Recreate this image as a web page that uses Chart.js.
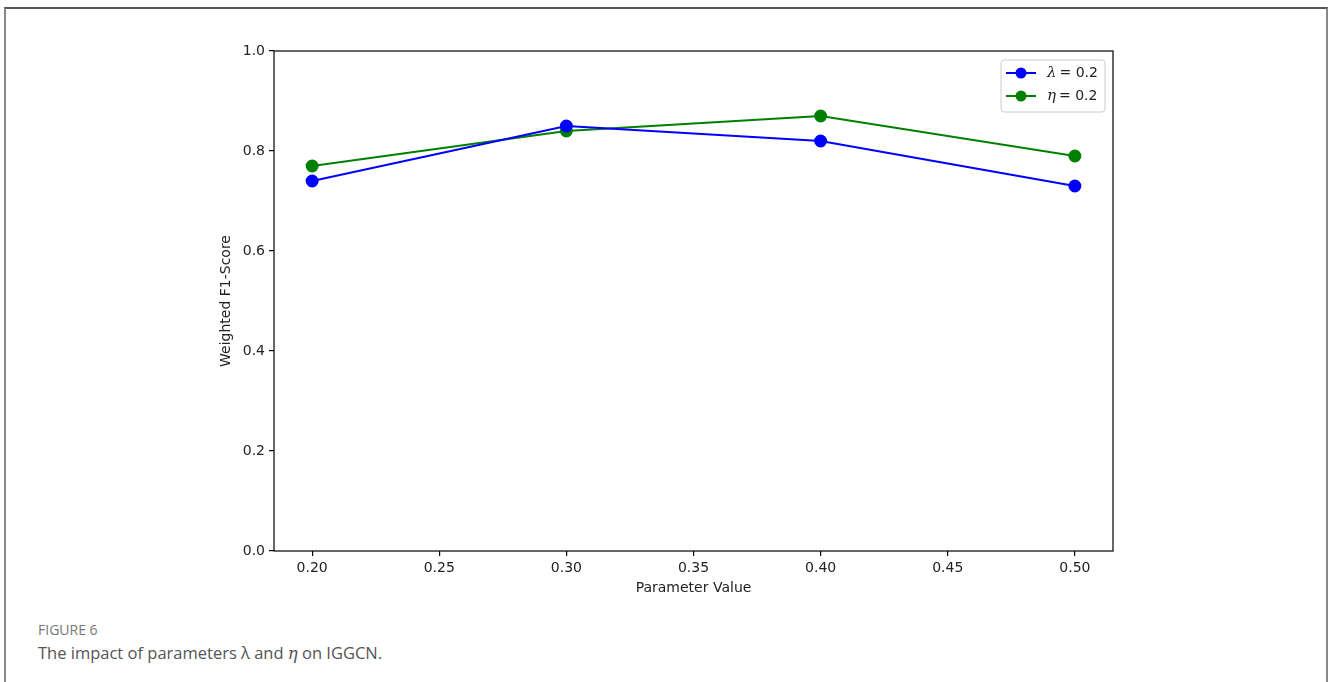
<!DOCTYPE html>
<html>
<head>
<meta charset="utf-8">
<script src="https://cdn.jsdelivr.net/npm/chart.js@4"></script>
<style>
  html, body { margin: 0; padding: 0; background: #fff; }
  body { width: 1328px; height: 682px; position: relative; overflow: hidden; }
  #frame { position: absolute; left: 4px; top: 7px; width: 1320px; height: 700px;
           border-top: 2px solid #555; border-left: 2px solid #888; border-right: 2px solid #888; }
  #wrap { position: absolute; left: 0; top: 0; width: 1328px; height: 620px; }
  #cap1 { position: absolute; left: 38px; top: 620px; font: 14px "Open Sans", Lato, sans-serif; color: #777; }
  #cap2 { position: absolute; left: 38px; top: 641px; font: 16.5px "Open Sans", Lato, sans-serif; color: #555; }
  #cap2 i { font-family: "DejaVu Serif", serif; }
</style>
</head>
<body>
<div id="frame"></div>
<div id="wrap"><canvas id="chart"></canvas></div>
<div id="cap1">FIGURE 6</div>
<div id="cap2">The impact of parameters λ and <i>η</i> on IGGCN.</div>
<script>
// data
let paramValues = [0.20, 0.30, 0.40, 0.50];
let lambdaScores = [0.74, 0.85, 0.82, 0.73];
let etaScores = [0.77, 0.84, 0.87, 0.79];
let seriesLabels = ['λ = 0.2', 'η = 0.2'];
let xTicks = [0.20, 0.25, 0.30, 0.35, 0.40, 0.45, 0.50];
let yTicks = [0.0, 0.2, 0.4, 0.6, 0.8, 1.0];

let font = { family: '"DejaVu Sans", sans-serif', size: 14 };

function pts(ys) {
    return paramValues.map((x, i) => ({ x: x, y: ys[i] }));
}

// box around the plot, like matplotlib spines
let spines = {
    id: 'spines',
    afterDraw(chart) {
        let a = chart.chartArea, c = chart.ctx;
        c.save();
        c.strokeStyle = '#000';
        c.lineWidth = 1.2;
        c.strokeRect(a.left, a.top, a.right - a.left, a.bottom - a.top);
        c.restore();
    }
};

// legend in the upper right corner, inside the axes
let boxLegend = {
    id: 'boxLegend',
    afterDatasetsDraw(chart) {
        let a = chart.chartArea, c = chart.ctx;
        let w = 104, h = 52;
        let x0 = a.right - 8 - w, y0 = a.top + 9;
        c.save();
        c.fillStyle = 'rgba(255,255,255,0.8)';
        c.strokeStyle = '#ccc';
        c.lineWidth = 1;
        c.beginPath();
        c.roundRect(x0, y0, w, h, 3);
        c.fill();
        c.stroke();
        chart.data.datasets.forEach((ds, i) => {
            let y = y0 + 13 + i * 23;
            c.strokeStyle = ds.borderColor;
            c.lineWidth = 2;
            c.beginPath();
            c.moveTo(x0 + 5, y);
            c.lineTo(x0 + 35, y);
            c.stroke();
            c.fillStyle = ds.backgroundColor;
            c.beginPath();
            c.arc(x0 + 20, y, 5.5, 0, Math.PI * 2);
            c.fill();
            c.fillStyle = '#222';
            c.font = 'italic 15px "DejaVu Serif", serif';
            c.textBaseline = 'middle';
            let sym = ds.label.split(' ')[0];
            c.fillText(sym, x0 + 46, y);
            let sw = c.measureText(sym).width;
            c.font = '14px "DejaVu Sans", sans-serif';
            c.fillText('= 0.2', x0 + 49 + sw, y);
        });
        c.restore();
    }
};

let ctx = document.getElementById('chart').getContext('2d');
let chart = new Chart(ctx, {
    type: 'line',
    data: {
        datasets: [
        {
            label: seriesLabels[0],
            data: pts(lambdaScores),
            borderColor: '#0000ff',
            backgroundColor: '#0000ff',
            borderWidth: 2,
            pointRadius: 5.5,
            pointHoverRadius: 5.5,
            tension: 0
        },
        {
            label: seriesLabels[1],
            data: pts(etaScores),
            borderColor: '#008000',
            backgroundColor: '#008000',
            borderWidth: 2,
            pointRadius: 5.5,
            pointHoverRadius: 5.5,
            tension: 0
        }
        ]
    },
    options: {
        responsive: true,
        maintainAspectRatio: false,
        animation: false,
        events: [],
        layout: { padding: { left: 218, right: 215, top: 51, bottom: 19 } },
        plugins: { legend: { display: false }, tooltip: { enabled: false } },
        scales: {
            x: {
                type: 'linear',
                min: 0.185,
                max: 0.515,
                afterBuildTicks: s => { s.ticks = xTicks.map(v => ({ value: v })); },
                afterFit: s => { s.height = 50; },
                ticks: { color: '#222', font: font, padding: 4, maxRotation: 0,
                         callback: v => v.toFixed(2) },
                grid: { drawOnChartArea: false, color: '#000', tickLength: 5, lineWidth: 1.2 },
                border: { display: false },
                title: { display: true, text: 'Parameter Value', color: '#222', font: font, padding: { top: 0 } }
            },
            y: {
                min: 0,
                max: 1,
                afterBuildTicks: s => { s.ticks = yTicks.map(v => ({ value: v })); },
                afterFit: s => { s.width = 56; },
                ticks: { color: '#222', font: font, padding: 4,
                         callback: v => v.toFixed(1) },
                grid: { drawOnChartArea: false, color: '#000', tickLength: 5, lineWidth: 1.2 },
                border: { display: false },
                title: { display: true, text: 'Weighted F1-Score', color: '#222', font: font, padding: 0 }
            }
        }
    },
    plugins: [spines, boxLegend]
});
</script>
</body>
</html>
